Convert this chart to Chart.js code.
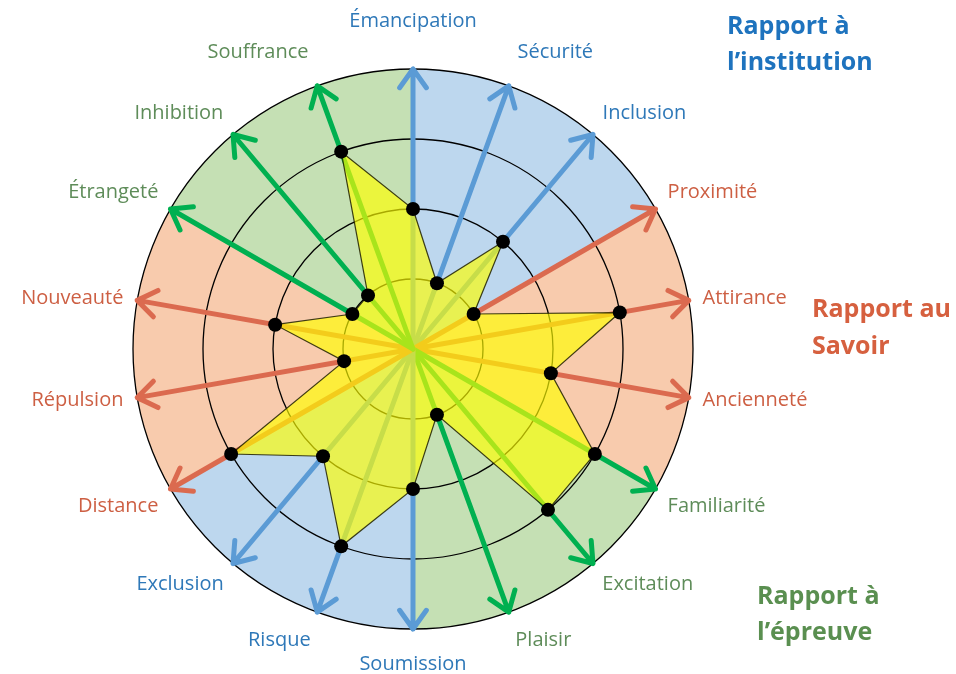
<!DOCTYPE html>
<html>
<head>
<meta charset="utf-8">
<script src="https://cdn.jsdelivr.net/npm/chart.js@4/dist/chart.umd.min.js"></script>
<style>
  html, body { margin: 0; padding: 0; background: #ffffff; }
  #wrap { width: 956px; height: 674px; position: relative; }
</style>
</head>
<body>
<div id="wrap"><canvas id="c" width="956" height="674"></canvas></div>
<script>
// ---- data ----
const categories = ['Émancipation','Sécurité','Inclusion','Proximité','Attirance','Ancienneté',
  'Familiarité','Excitation','Plaisir','Soumission','Risque','Exclusion',
  'Distance','Répulsion','Nouveauté','Étrangeté','Inhibition','Souffrance'];
const groups = ['institution','institution','institution','savoir','savoir','savoir',
  'epreuve','epreuve','epreuve','institution','institution','institution',
  'savoir','savoir','savoir','epreuve','epreuve','epreuve'];
const values = [2,1,2,1,3,2,3,3,1,2,3,2,3,1,2,1,1,3];
const arrowValues = [4,4,4,4,4,4,4,4,4,4,4,4,4,4,4,4,4,4];
const tickValues = [0,1,2,3,4];
const groupKeys = ['institution','savoir','epreuve'];
const groupTitles = [['Rapport à','l’institution'],['Rapport au','Savoir'],['Rapport à','l’épreuve']];

// ---- styles ----
const sectorColors = { institution: '#BDD7EE', savoir: '#F8CBAD', epreuve: '#C5E0B4' };
const arrowColors  = { institution: '#5B9BD5', savoir: '#DB6A4F', epreuve: '#00B050' };
const labelColors  = { institution: '#2E78B8', savoir: '#CD5F43', epreuve: '#5E8C59' };
const titleColors  = { institution: '#1E73BE', savoir: '#D6603F', epreuve: '#5A8F50' };
const titleSpots   = { institution: [727, 27, 63], savoir: [812, 310, 347], epreuve: [757, 597, 633] };
const FONT = '"Open Sans", "DejaVu Sans", sans-serif';

const decor = {
  id: 'decor',
  beforeDraw(chart) {
    const s = chart.scales.r, ctx = chart.ctx;
    const n = categories.length;
    ctx.save();
    for (let i = 0; i < n; i++) {
      const a0 = s.getIndexAngle(i) - Math.PI / 2;
      const a1 = s.getIndexAngle((i + 1) % n) - Math.PI / 2;
      ctx.beginPath();
      ctx.moveTo(s.xCenter, s.yCenter);
      ctx.arc(s.xCenter, s.yCenter, s.getDistanceFromCenterForValue(s.max), a0, a1 <= a0 ? a1 + 2 * Math.PI : a1);
      ctx.closePath();
      ctx.fillStyle = sectorColors[groups[i]];
      ctx.fill();
    }
    ctx.restore();
  },
  beforeDatasetsDraw(chart) {
    const s = chart.scales.r, ctx = chart.ctx;
    ctx.save();
    ctx.lineWidth = 5;
    ctx.lineCap = 'round';
    ctx.lineJoin = 'round';
    categories.forEach((c, i) => {
      const p0 = s.getPointPositionForValue(i, 0);
      const p1 = s.getPointPositionForValue(i, arrowValues[i]);
      const ang = Math.atan2(p1.y - p0.y, p1.x - p0.x);
      const hl = 23, ha = 0.62;
      ctx.strokeStyle = arrowColors[groups[i]];
      ctx.beginPath();
      ctx.moveTo(p0.x, p0.y);
      ctx.lineTo(p1.x, p1.y);
      ctx.moveTo(p1.x - hl * Math.cos(ang - ha), p1.y - hl * Math.sin(ang - ha));
      ctx.lineTo(p1.x, p1.y);
      ctx.lineTo(p1.x - hl * Math.cos(ang + ha), p1.y - hl * Math.sin(ang + ha));
      ctx.stroke();
    });
    ctx.restore();
  },
  afterDraw(chart) {
    const s = chart.scales.r, ctx = chart.ctx;
    const R = s.drawingArea;
    ctx.save();
    ctx.font = '20px ' + FONT;
    categories.forEach((c, i) => {
      const a = s.getIndexAngle(i);
      const deg = Math.round(a * 180 / Math.PI) % 360;
      const cs = Math.cos(a);
      const pad = 14 + (cs > 0 ? 24 : 11) * Math.pow(Math.abs(cs), 12);
      const p = s.getPointPosition(i, R + pad);
      ctx.textAlign = (deg === 0 || deg === 180) ? 'center' : (deg < 180 ? 'left' : 'right');
      ctx.textBaseline = Math.abs(cs) < 0.2 ? 'middle' : (cs > 0 ? 'bottom' : 'top');
      ctx.fillStyle = labelColors[groups[i]];
      ctx.fillText(c, p.x, p.y);
    });
    ctx.font = 'bold 25px ' + FONT;
    ctx.textAlign = 'left';
    ctx.textBaseline = 'middle';
    groupKeys.forEach((g, k) => {
      const [x, y1, y2] = titleSpots[g];
      ctx.fillStyle = titleColors[g];
      ctx.fillText(groupTitles[k][0], x, y1);
      ctx.fillText(groupTitles[k][1], x, y2);
    });
    ctx.restore();
  }
};

new Chart(document.getElementById('c'), {
  type: 'radar',
  data: {
    labels: categories,
    datasets: [{
      data: values,
      fill: true,
      backgroundColor: 'rgba(255,255,0,0.66)',
      borderColor: 'rgba(30,30,0,0.85)',
      borderWidth: 1.2,
      pointRadius: 7,
      pointHoverRadius: 7,
      pointBackgroundColor: '#000000',
      pointBorderWidth: 0,
      tension: 0
    }]
  },
  options: {
    responsive: false,
    animation: false,
    events: [],
    layout: { padding: { left: 133, right: 263, top: 69, bottom: 45 } },
    plugins: { legend: { display: false }, tooltip: { enabled: false } },
    scales: {
      r: {
        min: tickValues[0],
        max: tickValues[tickValues.length - 1],
        afterBuildTicks(scale) { scale.ticks = tickValues.map(v => ({ value: v })); },
        ticks: { display: false },
        pointLabels: { display: false },
        angleLines: { display: false },
        grid: { circular: true, color: '#000000', lineWidth: 1.3 }
      }
    }
  },
  plugins: [decor]
});
</script>
</body>
</html>
